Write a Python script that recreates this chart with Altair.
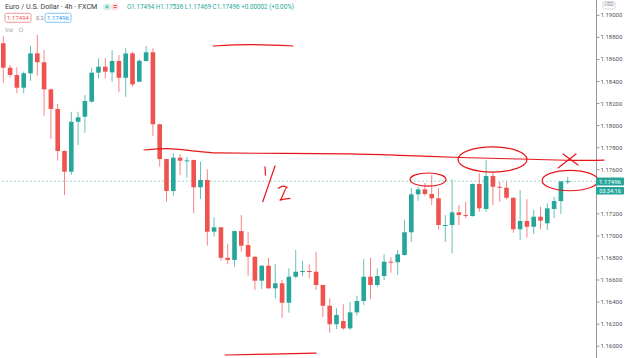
import altair as alt
import pandas as pd

GREEN = "#26a69a"
RED = "#ef5350"
INK = "#e8161b"
FONT = "Roboto"

# ---- candle data (EUR/USD 4h) ----
opens = [1.18746, 1.18525, 1.18459, 1.18344, 1.18474, 1.18655, 1.18574, 1.18329, 1.18151, 1.17770,
         1.17582, 1.18035, 1.18081, 1.18217, 1.18480, 1.18534, 1.18483, 1.18586, 1.18434, 1.18655,
         1.18398, 1.18586, 1.18665, 1.18012, 1.17697, 1.17407, 1.17709, 1.17679, 1.17688, 1.17441,
         1.17507, 1.17038, 1.17078, 1.16802, 1.16782, 1.17044, 1.16917, 1.16811, 1.16594, 1.16730,
         1.16525, 1.16570, 1.16394, 1.16630, 1.16673, 1.16682, 1.16675, 1.16555, 1.16367, 1.16199,
         1.16228, 1.16162, 1.16307, 1.16410, 1.16630, 1.16555, 1.16636, 1.16766, 1.16761, 1.16827,
         1.17033, 1.17377, 1.17422, 1.17380, 1.17341, 1.17090, 1.17099, 1.17214, 1.17189, 1.17180,
         1.17471, 1.17244, 1.17543, 1.17446, 1.17437, 1.17346, 1.17060, 1.17135, 1.17083, 1.17174,
         1.17114, 1.17244, 1.17316, 1.17494]
highs = [1.18812, 1.18549, 1.18529, 1.18489, 1.18724, 1.18824, 1.18685, 1.18335, 1.18196, 1.17775,
         1.18123, 1.18126, 1.18277, 1.18525, 1.18610, 1.18610, 1.18685, 1.18640, 1.18701, 1.18670,
         1.18601, 1.18722, 1.18701, 1.18016, 1.17700, 1.17749, 1.17740, 1.17718, 1.17692, 1.17673,
         1.17604, 1.17169, 1.17082, 1.16927, 1.17048, 1.17189, 1.17038, 1.16815, 1.16734, 1.16802,
         1.16743, 1.16600, 1.16706, 1.16872, 1.16772, 1.16743, 1.16857, 1.16559, 1.16434, 1.16344,
         1.16380, 1.16403, 1.16458, 1.16791, 1.16802, 1.16706, 1.16833, 1.16806, 1.16872, 1.17144,
         1.17437, 1.17446, 1.17482, 1.17552, 1.17432, 1.17189, 1.17513, 1.17280, 1.17310, 1.17475,
         1.17568, 1.17688, 1.17579, 1.17491, 1.17491, 1.17350, 1.17416, 1.17332, 1.17235, 1.17265,
         1.17296, 1.17355, 1.17497, 1.17536]
lows = [1.18389, 1.18438, 1.18293, 1.18293, 1.18407, 1.18452, 1.18090, 1.17879, 1.17682, 1.17371,
        1.17552, 1.17824, 1.17936, 1.18210, 1.18429, 1.18429, 1.18398, 1.18302, 1.18262, 1.18353,
        1.18395, 1.18582, 1.17906, 1.17627, 1.17310, 1.17365, 1.17552, 1.17528, 1.17205, 1.17335,
        1.16911, 1.16993, 1.16775, 1.16743, 1.16721, 1.16857, 1.16639, 1.16510, 1.16519, 1.16521,
        1.16434, 1.16258, 1.16304, 1.16616, 1.16636, 1.16616, 1.16510, 1.16267, 1.16122, 1.16156,
        1.16147, 1.16147, 1.16277, 1.16374, 1.16428, 1.16539, 1.16600, 1.16666, 1.16646, 1.16823,
        1.16947, 1.17319, 1.17362, 1.17280, 1.17060, 1.16947, 1.16842, 1.17099, 1.17160, 1.17176,
        1.17219, 1.17219, 1.17280, 1.17310, 1.17332, 1.17029, 1.16963, 1.16984, 1.17015, 1.17060,
        1.17053, 1.17160, 1.17199, 1.17469]
closes = [1.18525, 1.18459, 1.18344, 1.18474, 1.18655, 1.18574, 1.18329, 1.18151, 1.17770, 1.17582,
          1.18035, 1.18075, 1.18223, 1.18480, 1.18534, 1.18489, 1.18586, 1.18434, 1.18655, 1.18374,
          1.18588, 1.18665, 1.18012, 1.17697, 1.17407, 1.17709, 1.17682, 1.17685, 1.17441, 1.17507,
          1.17038, 1.17078, 1.16802, 1.16782, 1.17044, 1.16911, 1.16811, 1.16594, 1.16730, 1.16525,
          1.16570, 1.16394, 1.16630, 1.16675, 1.16682, 1.16673, 1.16555, 1.16367, 1.16199, 1.16283,
          1.16162, 1.16307, 1.16410, 1.16630, 1.16555, 1.16636, 1.16766, 1.16757, 1.16833, 1.17033,
          1.17377, 1.17422, 1.17380, 1.17341, 1.17099, 1.17099, 1.17214, 1.17189, 1.17180, 1.17471,
          1.17250, 1.17543, 1.17446, 1.17437, 1.17346, 1.17060, 1.17135, 1.17083, 1.17174, 1.17138,
          1.17250, 1.17316, 1.17494, 1.17496]

tick_values = [1.160, 1.162, 1.164, 1.166, 1.168, 1.170, 1.172,
               1.176, 1.178, 1.180, 1.182, 1.184, 1.186, 1.188, 1.190]

# ---- hand-drawn annotations (in data units: candle index, price) ----
ann_stroke = (["long"] * 10 + ["top"] * 3 + ["bottom"] * 3 + ["one"] * 2 + ["slash"] * 2
              + ["two"] * 5 + ["xa"] * 2 + ["xb"] * 2)
ann_x = [20.69, 24.07, 28.93, 31.43, 50.99, 58.34, 67.16, 77.46, 84.81, 88.34,
         30.84, 36.28, 42.60,
         32.60, 39.22, 45.99,
         38.49, 38.55,
         38.15, 39.96,
         40.44, 41.18, 41.76, 40.69, 42.16,
         81.57, 84.22,
         82.31, 84.51]
ann_p = [1.17779, 1.17792, 1.17765, 1.17752, 1.17743, 1.17731, 1.17711, 1.17695, 1.17684, 1.17688,
         1.18722, 1.18735, 1.18722,
         1.15920, 1.15929, 1.15938,
         1.17627, 1.17552,
         1.17310, 1.17634,
         1.17432, 1.17452, 1.17441, 1.17325, 1.17341,
         1.17616, 1.17743,
         1.17743, 1.17643]
ell_x = [62.46, 71.94, 83.34]
ell_p = [1.17511, 1.17693, 1.17502]
ell_w = [36, 69, 56]

df = pd.DataFrame({"i": list(range(len(opens))), "o": opens, "h": highs, "l": lows, "c": closes})
ann = pd.DataFrame({"s": ann_stroke, "k": list(range(len(ann_x))), "x": ann_x, "p": ann_p})
ell = pd.DataFrame({"x": ell_x, "p": ell_p, "w": ell_w})
ticks = pd.DataFrame({"v": tick_values})
one = pd.DataFrame({"a": [0]})

xs = alt.Scale(domain=[-0.485, 87.16], nice=False, zero=False)
ys = alt.Scale(domain=[1.15893, 1.19139], nice=False, zero=False)
col = alt.Color("dir:N", scale=alt.Scale(domain=["up", "down"], range=[GREEN, RED]), legend=None)

base = alt.Chart(df).transform_calculate(
    dir="datum.c >= datum.o ? 'up' : 'down'",
    top="max(datum.o, datum.c)",
    bot0="min(datum.o, datum.c)",
).transform_calculate(
    bot="datum.top - datum.bot0 < 0.00009 ? datum.top - 0.00009 : datum.bot0",
    xl="datum.i - 0.34",
    xr="datum.i + 0.34",
)

wicks = base.mark_rule(strokeWidth=1, opacity=0.7).encode(
    x=alt.X("i:Q", scale=xs, axis=None),
    y=alt.Y("l:Q", scale=ys, axis=None),
    y2="h:Q",
    color=col,
)
bodies = base.mark_rect().encode(
    x=alt.X("xl:Q", scale=xs, axis=None),
    x2="xr:Q",
    y=alt.Y("bot:Q", scale=ys, axis=None),
    y2="top:Q",
    color=col,
)

price_line = alt.Chart(pd.DataFrame({"p": [closes[-1]]})).mark_rule(
    strokeDash=[2, 2], color=GREEN, opacity=0.55, strokeWidth=0.8
).encode(y=alt.Y("p:Q", scale=ys, axis=None))

# right price scale drawn as marks (axis line, ticks, labels)
axis_line = alt.Chart(one).mark_rule(color="#9598a1", strokeWidth=1, clip=False).encode(
    x=alt.value(596.5), y=alt.value(0), y2=alt.value(358))
axis_ticks = alt.Chart(ticks).mark_rule(color="#9598a1", strokeWidth=1, clip=False).encode(
    x=alt.value(597), x2=alt.value(599.5),
    y=alt.Y("v:Q", scale=ys, axis=None))
axis_labels = alt.Chart(ticks).mark_text(
    align="left", baseline="middle", fontSize=6, font=FONT, color="#50535e", clip=False
).encode(
    x=alt.value(600.5),
    y=alt.Y("v:Q", scale=ys, axis=None),
    text=alt.Text("v:Q", format=".5f"),
)

ink_lines = alt.Chart(ann).mark_line(color=INK, strokeWidth=1.2, clip=False, strokeCap="round",
                                     strokeJoin="round", interpolate="monotone").encode(
    x=alt.X("x:Q", scale=xs, axis=None),
    y=alt.Y("p:Q", scale=ys, axis=None),
    detail="s:N",
    order="k:Q",
)

R = 0.365
K = 0.5523
kR = K * R
ell_path = (f"M -1 0 C -1 {-kR:.4f} {-K} {-R} 0 {-R} C {K} {-R} 1 {-kR:.4f} 1 0 "
            f"C 1 {kR:.4f} {K} {R} 0 {R} C {-K} {R} -1 {kR:.4f} -1 0 Z")
ellipses = alt.Chart(ell).transform_calculate(sz="datum.w * datum.w").mark_point(
    shape=ell_path, filled=False, color=INK, strokeWidth=1.2, opacity=1, clip=False
).encode(
    x=alt.X("x:Q", scale=xs, axis=None),
    y=alt.Y("p:Q", scale=ys, axis=None),
    size=alt.Size("sz:Q", scale=None, legend=None),
)


def txt(s, x, y, color, size=6.5, align="left", weight="normal"):
    return alt.Chart(one).mark_text(text=s, align=align, baseline="middle", fontSize=size, font=FONT,
                                    color=color, fontWeight=weight).encode(x=alt.value(x), y=alt.value(y))


def box(x1, x2, y1, y2, fill, stroke=None, radius=1.5):
    kw = dict(fill=fill, cornerRadius=radius)
    if stroke:
        kw.update(stroke=stroke, strokeWidth=0.8)
    return alt.Chart(one).mark_rect(**kw).encode(
        x=alt.value(x1), x2=alt.value(x2), y=alt.value(y1), y2=alt.value(y2))


header = [
    txt("Euro / U.S. Dollar · 4h · FXCM", 5, 7, "#3a3d46", 7.2),
    box(103, 111, 3.5, 10.5, "#d9f0ec", radius=3),
    box(111, 119, 3.5, 10.5, "#fcdede", radius=3),
    alt.Chart(one).mark_point(shape="circle", filled=True, color=GREEN, size=8).encode(
        x=alt.value(107), y=alt.value(7)),
    txt("=", 115, 7, RED, 6.5, align="center", weight="bold"),
    txt("O1.17494 H1.17536 L1.17469 C1.17496 +0.00002 (+0.00%)", 127, 7, GREEN, 6.3),
    box(5, 31, 13.3, 22.3, "white", "#f08080"),
    txt("1.17494", 18, 18, RED, 6, align="center"),
    txt("0.2", 36, 18, "#787b86", 5.5),
    box(45, 71, 13.3, 22.3, "white", "#64b5f6"),
    txt("1.17496", 58, 18, "#2196f3", 6, align="center"),
    txt("Vol", 5, 30, "#9598a1", 5.5),
    alt.Chart(one).mark_point(shape="circle", filled=False, color="#9598a1", size=14, strokeWidth=0.8).encode(
        x=alt.value(21), y=alt.value(30)),
]

right = [
    box(603, 615, 1.5, 9, "white", "#c8cad0", radius=1.5),
    txt("USD", 609, 5.3, "#787b86", 4.8, align="center"),
    box(596, 624, 177.5, 185.5, GREEN, radius=1),
    txt("1.17496", 610, 181.6, "white", 6, align="center"),
    box(596, 624, 187, 194.5, GREEN, radius=1),
    txt("03:34:16", 610, 190.9, "white", 5.6, align="center"),
]

chart = alt.layer(
    price_line, wicks, bodies, axis_line, axis_ticks, axis_labels,
    ink_lines, ellipses, *header, *right
).properties(
    width=596, height=358,
    autosize=alt.AutoSizeParams(type="none"),
    padding={"left": 0, "top": 0, "right": 29, "bottom": 0},
    background="white",
).configure_view(stroke=None)

chart.save("out.html", embed_options={"renderer": "svg", "actions": False})
